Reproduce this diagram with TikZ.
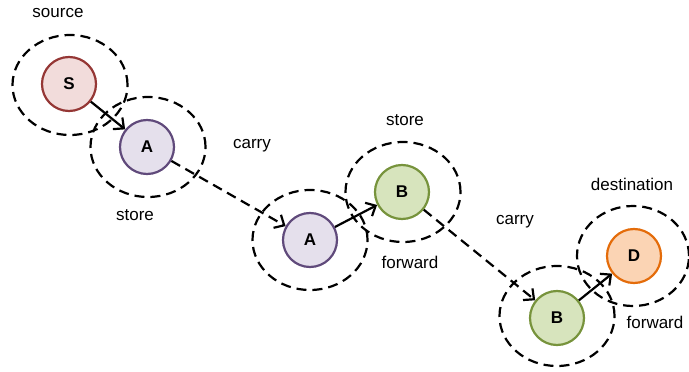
\documentclass[tikz,border=0pt]{standalone}
\usepackage{fontspec}
\setmainfont{Liberation Sans}
\usetikzlibrary{arrows.meta,shapes.geometric}
\definecolor{srcfill}{HTML}{F2DCDB}
\definecolor{srcline}{HTML}{953735}
\definecolor{afill}{HTML}{E5E0EC}
\definecolor{aline}{HTML}{604A7B}
\definecolor{bfill}{HTML}{D7E4BD}
\definecolor{bline}{HTML}{77933C}
\definecolor{dfill}{HTML}{FBD4B4}
\definecolor{dline}{HTML}{E46C0A}
\tikzset{
  host/.style={circle,draw,line width=2.2pt,minimum size=54pt,inner sep=0pt,
    font=\fontsize{17}{17}\selectfont\bfseries},
  reach/.style={ellipse,draw,line width=2.2pt,dash pattern=on 10pt off 6pt,
    minimum width=115pt,minimum height=100pt,inner sep=0pt},
  lbl/.style={font=\fontsize{17}{17}\selectfont,inner sep=0pt},
  hop/.style={line width=2.2pt,-{Straight Barb[length=8pt,width=15pt,line width=2.2pt]}},
}
\begin{document}
\begin{tikzpicture}[x=1pt,y=-1pt]
  \useasboundingbox (0,0) rectangle (689,372);
  % radio ranges
  \draw
    (70,85) node[reach] (r0){}
    (148,147) node[reach] (r1){}
    (310,240) node[reach] (r2){}
    (403,192) node[reach] (r3){}
    (557,316) node[reach] (r4){}
    (633,256) node[reach,minimum width=112pt] (r5){};
  % hosts
  \draw
    (69,84) node[host,fill=srcfill,draw=srcline] (s){S}
    (147,147) node[host,fill=afill,draw=aline] (a1){A}
    (310,240) node[host,fill=afill,draw=aline] (a2){A}
    (402,192) node[host,fill=bfill,draw=bline] (b1){B}
    (557,318) node[host,fill=bfill,draw=bline] (b2){B}
    (634,256) node[host,fill=dfill,draw=dline] (d){D};
  % labels
  \draw
    (58,13) node[lbl] (l0){source}
    (135,215) node[lbl] (l1){store}
    (252,146) node[lbl] (l2){carry}
    (405,120) node[lbl] (l3){store}
    (410,262) node[lbl] (l4){forward}
    (515,222) node[lbl] (l5){carry}
    (632,184) node[lbl] (l6){destination}
    (655,322) node[lbl] (l7){forward};
  \begin{scope}[hop]
    \draw (s) to (a1);
    \draw[dash pattern=on 10pt off 6pt] (a1) to (a2);
    \draw (a2) to (b1);
    \draw[dash pattern=on 10pt off 6pt] (b1) to (b2);
    \draw (b2) to (d);
  \end{scope}
\end{tikzpicture}
\end{document}
